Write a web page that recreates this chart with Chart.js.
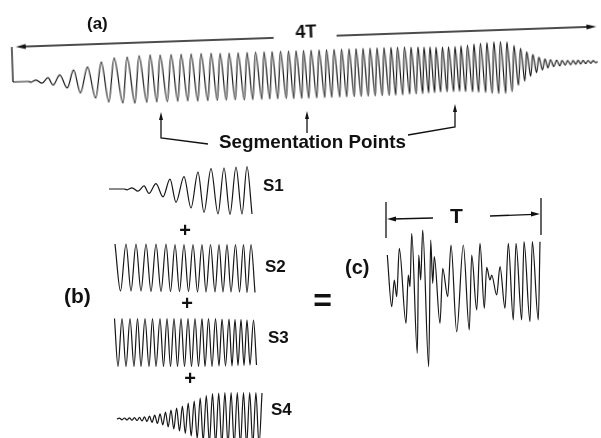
<!DOCTYPE html>
<html>
<head>
<meta charset="utf-8">
<script src="https://cdn.jsdelivr.net/npm/chart.js@4.4.1/dist/chart.umd.min.js"></script>
<style>
  html, body { margin: 0; padding: 0; background: #fff; }
  #fig { position: relative; width: 601px; height: 438px; overflow: hidden; }
  #panelA { position: absolute; left: 0; top: 0; width: 601px; height: 140px;
            transform-origin: 13px 82px; transform: rotate(-2deg); }
  canvas { position: absolute; }
  svg { position: absolute; left: 0; top: 0; overflow: visible; }
  svg text { font-family: "Liberation Sans", Arial, sans-serif; font-weight: bold; fill: #111; }
</style>
</head>
<body>
<div id="fig">
  <div id="panelA">
    <canvas id="waveA"></canvas>
    <svg width="601" height="140">
      <g stroke="#111" stroke-width="1.3" fill="none">
        <line x1="13" y1="47" x2="13" y2="82"/>
        <line x1="22" y1="47" x2="275" y2="47"/>
        <line x1="338" y1="47" x2="592" y2="47"/>
      </g>
      <polygon points="17,47 27,44.5 27,49.5" fill="#111"/>
      <polygon points="598,47 588,44.5 588,49.5" fill="#111"/>
      <text x="297" y="48" font-size="18">4T</text>
    </svg>
  </div>
  <canvas id="waveS1"></canvas>
  <canvas id="waveS2"></canvas>
  <canvas id="waveS3"></canvas>
  <canvas id="waveS4"></canvas>
  <canvas id="waveC"></canvas>
  <svg width="601" height="438">
    <g stroke="#111" stroke-width="1.3" fill="none">
      <polyline points="208,144 161,138 161,118"/>
      <line x1="307" y1="133" x2="307" y2="117"/>
      <polyline points="408,135 455,127 455,111"/>
      <line x1="386" y1="202" x2="386" y2="238"/>
      <line x1="541" y1="198" x2="541" y2="235"/>
      <line x1="392" y1="219" x2="433" y2="218"/>
      <line x1="490" y1="216" x2="534" y2="214.3"/>
    </g>
    <g fill="#111">
      <polygon points="161,112 159,120 163,120"/>
      <polygon points="307,111 305,119 309,119"/>
      <polygon points="455,104 453,112 457,112"/>
      <polygon points="387,219 396,216.5 396,221.5"/>
      <polygon points="540,214 531,211.5 531,216.5"/>
    </g>
    <text x="87" y="29" font-size="17">(a)</text>
    <text x="219" y="148" font-size="18.5" textLength="187" lengthAdjust="spacingAndGlyphs">Segmentation Points</text>
    <text x="263" y="191" font-size="17">S1</text>
    <text x="265" y="272" font-size="17">S2</text>
    <text x="268" y="343" font-size="17">S3</text>
    <text x="271" y="415" font-size="17">S4</text>
    <text x="185" y="237" font-size="20" text-anchor="middle">+</text>
    <text x="187" y="310" font-size="20" text-anchor="middle">+</text>
    <text x="190" y="385" font-size="20" text-anchor="middle">+</text>
    <text x="64" y="303" font-size="21">(b)</text>
    <text x="322.5" y="310.5" font-size="32" text-anchor="middle">=</text>
    <text x="345" y="274" font-size="20">(c)</text>
    <text x="450" y="223" font-size="21">T</text>
  </svg>
</div>
<script>
// Speech waveform over 4T, as extrema: sample index and level
const speechTime = [
  0, 15, 18, 23, 29, 35, 40, 47, 54, 61, 67, 75, 82, 89, 95, 102, 109, 115, 121, 127,
  133, 138, 143, 148, 153.5, 159, 164, 169, 174, 179, 184, 189, 194, 199, 203.5, 208, 212.5, 217, 221.5, 226,
  230.5, 235, 239, 243.5, 248, 252, 256, 260, 264, 268.5, 272.5, 276.5, 280, 284, 288, 291.5, 295, 299, 303, 307,
  311, 314.5, 318, 322, 326, 329.5, 333, 337, 340.5, 344, 347.5, 351, 354.5, 358, 361.5, 365, 368.5, 372, 375.5, 379,
  382, 385.5, 389, 392.5, 396, 399, 402.5, 406, 409, 412, 415, 418, 421, 424, 427, 430.5, 433.5, 436.5, 440, 443,
  446, 449, 452, 455.5, 459, 462, 465, 468.5, 472, 475, 478.5, 482, 485, 488.5, 492, 495, 498.5, 502, 505, 508.5,
  511.5, 514.5, 517.5, 520.5, 523.5, 526.5, 529.5, 532.5, 535, 538, 541, 544, 547, 549.5, 552.5, 555, 558, 560.5, 563, 565.5,
  568, 570.5, 573, 575.5, 578, 580.5, 583, 585
];
const speechLevel = [
  0, 0, -0.8, 1.2, -2.2, 3.1, -4.4, 5.4, -7.9, 9.9, -13.3, 12.4, -18.9, 16.9, -23.3, 20.4, -24.8, 21, -25.3, 22,
  -25, 22.5, -25, 22, -25, 22, -25, 22, -25, 22, -25.5, 22, -25.5, 22, -25.5, 21.5, -25.5, 21.5, -25.5, 21.5,
  -26, 21.5, -26, 21.5, -26, 21.5, -26, 21.5, -26, 21.5, -26, 21.5, -26.5, 21.5, -26.5, 21.5, -26.5, 21.5, -26.5, 21.5,
  -26.5, 21.5, -26.5, 21.5, -26.5, 21.5, -26.5, 21.5, -26.5, 21.5, -26.5, 21.5, -26.5, 21.5, -26.5, 21.5, -26.5, 21.5, -26.5, 21.5,
  -26.5, 21.5, -26.5, 21.5, -26, 21, -26, 21, -26, 20.5, -25.5, 20.5, -25.5, 20, -25, 20, -25, 20, -25, 20,
  -25, 20.5, -25.5, 21, -26, 22, -26.5, 22.5, -27, 23, -28, 23.5, -28.5, 23.5, -28.5, 23, -27, 19, -21, 16,
  -17, 12.5, -12.5, 9.5, -9, 6.5, -6.5, 4.5, -4.5, 3.5, -3.5, 2.8, -3, 2.5, -2.5, 2.2, -2.2, 2, -2, 1.8,
  -1.8, 1.6, -1.6, 1.5, -1.5, 1.2, -1, 0
];

// segment length T in samples and the three segmentation points
const segLength = 145;
const segPoints = [145, 290, 435];

// fourth segment as drawn in (b)
const s4Time = [
  0, 2.5, 5, 7.5, 10, 12.5, 15, 17.5, 20, 22.5, 25, 27.5, 30, 32.5, 35, 37.7, 40.4, 43.1, 45.8, 48.5,
  51.2, 54, 56.8, 59.6, 62.5, 65.4, 68.3, 71.2, 74.2, 77.2, 80.2, 83.2, 86.2, 89.3, 92.4, 95.5, 98.6, 101.7, 104.8, 107.9,
  111, 114.1, 117.2, 120.3, 123.4, 126.5, 129.6, 132.7, 135.8, 138.9, 142, 145
];
const s4Level = [
  0, 0.8, -0.8, 1, -1, 1.1, -1.2, 1.3, -1.5, 1.6, -1.9, 2.1, -2.5, 2.8, -3.3, 3.8, -4.5, 5.2, -6, 7,
  -8, 9, -10, 11, -12, 13, -14.5, 16, -17, 18, -19.5, 21, -22, 23.5, -24, 25.5, -25, 26, -25.5, 26.5,
  -26, 26.5, -26, 26.5, -26, 26.5, -26, 26.5, -26, 26.5, -26, 26
];

// summed signal (c) over one T
const sumTime = [
  0.3, 4.7, 7.3, 9.7, 12.3, 19, 21.3, 23, 24.7, 30.3, 31.7, 33.7, 35.7, 41.7, 43.7, 45.7, 47.3, 53, 55.7, 60.7,
  64, 69.7, 76.3, 82.3, 84.7, 89.7, 93, 97.3, 99.7, 103, 104.7, 109.7, 113, 118, 121.3, 126.3, 129, 134.7, 137, 143,
  145.3, 151.3, 153
];
const sumLevel = [
  27, -24.7, 2, -14.7, 33.7, -41.3, 7, -4.7, 48.7, -71.3, 27, 2, 52, -84.7, 42, -1.3, 25.3, -41.3, 13.7, -14.7,
  37, -49.7, 37, -48, 27, -28, 38.7, -26.3, 14.7, 2, 7, -13, 15.3, -26.3, 38.7, -38, 38.7, -38, 40.3, -39.7,
  40.3, -38, 40.3
];

function pointsOf(ts, vs, from, to) {
  const pts = [];
  ts.forEach((t, i) => {
    if (t >= from && t <= to) pts.push({ x: t, y: vs[i] });
  });
  return pts;
}

// one trace per canvas, 1 sample = 1 px, 1 level unit = 1 px
function makeWave(id, pts, xMin, xMax, yHalf, left, top) {
  const cv = document.getElementById(id);
  cv.width = xMax - xMin;
  cv.height = yHalf * 2;
  cv.style.left = left + 'px';
  cv.style.top = top + 'px';
  return new Chart(cv, {
    type: 'line',
    data: {
      datasets: [{
        data: pts,
        borderColor: '#161616',
        borderWidth: 1.2,
        pointRadius: 0,
        fill: false,
        cubicInterpolationMode: 'monotone'
      }]
    },
    options: {
      responsive: false,
      animation: false,
      events: [],
      layout: { padding: 0 },
      plugins: { legend: { display: false }, tooltip: { enabled: false } },
      scales: {
        x: { type: 'linear', min: xMin, max: xMax, display: false },
        y: { type: 'linear', min: -yHalf, max: yHalf, display: false }
      }
    }
  });
}

// (a) whole utterance
makeWave('waveA', pointsOf(speechTime, speechLevel, 0, 4 * segLength + 10), -5, 595, 36, 8, 46);

// (b) segments cut at the segmentation points
const cuts = [0].concat(segPoints);
makeWave('waveS1', pointsOf(speechTime, speechLevel, cuts[0], cuts[1]), cuts[0] - 4, cuts[0] + segLength + 4, 32, 105, 157);
makeWave('waveS2', pointsOf(speechTime, speechLevel, cuts[1], cuts[2]), cuts[1] - 4, cuts[1] + segLength + 4, 32, 108, 234);
makeWave('waveS3', pointsOf(speechTime, speechLevel, cuts[2], cuts[3]), cuts[2] - 4, cuts[2] + segLength + 4, 32, 109, 308);
makeWave('waveS4', pointsOf(s4Time, s4Level, 0, segLength), -4, segLength + 4, 32, 113, 387);

// (c) sum of the four segments
makeWave('waveC', pointsOf(sumTime, sumLevel, 0, 160), -4, 158, 90, 383, 192);
</script>
</body>
</html>
